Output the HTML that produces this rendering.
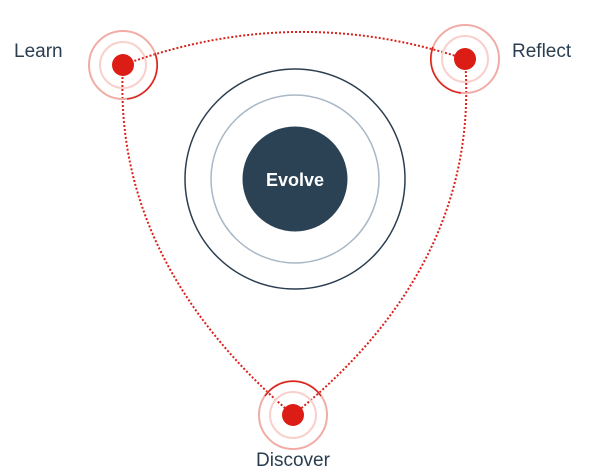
<!DOCTYPE html>
<html><head><style>
html,body{margin:0;padding:0;background:#fff;}
svg{display:block;}
text{font-family:"Liberation Sans",sans-serif;}
</style></head><body>
<svg width="600" height="470" viewBox="0 0 600 470" xmlns="http://www.w3.org/2000/svg">
<g fill="none" stroke="#d9211a" stroke-width="2" stroke-dasharray="2 2">
<path d="M123 65 Q294 2 465 59"/>
<path d="M123 65 Q112 260 293 415"/>
<path d="M465 59 Q481 263 293 415"/>
</g>
<circle cx="295" cy="179" r="110" fill="none" stroke="#2b3e50" stroke-width="1.5"/>
<circle cx="295" cy="179" r="84" fill="none" stroke="#a9b8c6" stroke-width="1.5"/>
<circle cx="295" cy="179" r="52.5" fill="#2b4255"/>
<text x="295" y="186" text-anchor="middle" font-size="18" font-weight="bold" fill="#fff">Evolve</text>
<g>
<circle cx="123" cy="65" r="34" fill="none" stroke="#f1aca6" stroke-width="2"/>
<circle cx="123" cy="65" r="23" fill="none" stroke="#f8d0cc" stroke-width="2"/>
<path d="M155 53 A34 34 0 0 1 127 99" fill="none" stroke="#d9211a" stroke-width="1.5"/>
<circle cx="123" cy="65" r="11" fill="#db1d15"/>
<circle cx="465" cy="59" r="34" fill="none" stroke="#f1aca6" stroke-width="2"/>
<circle cx="465" cy="59" r="23" fill="none" stroke="#f8d0cc" stroke-width="2"/>
<path d="M433 47 A34 34 0 0 0 461 93" fill="none" stroke="#d9211a" stroke-width="1.5"/>
<circle cx="465" cy="59" r="11" fill="#db1d15"/>
<circle cx="293" cy="415" r="34" fill="none" stroke="#f1aca6" stroke-width="2"/>
<circle cx="293" cy="415" r="23" fill="none" stroke="#f8d0cc" stroke-width="2"/>
<path d="M265 396 A34 34 0 0 1 321 396" fill="none" stroke="#d9211a" stroke-width="1.5"/>
<circle cx="293" cy="415" r="11" fill="#db1d15"/>
</g>
<text x="14" y="57" font-size="19" fill="#2b3e50">Learn</text>
<text x="512" y="57" font-size="19" fill="#2b3e50">Reflect</text>
<text x="293" y="466" text-anchor="middle" font-size="19" fill="#2b3e50">Discover</text>
</svg>
</body></html>
